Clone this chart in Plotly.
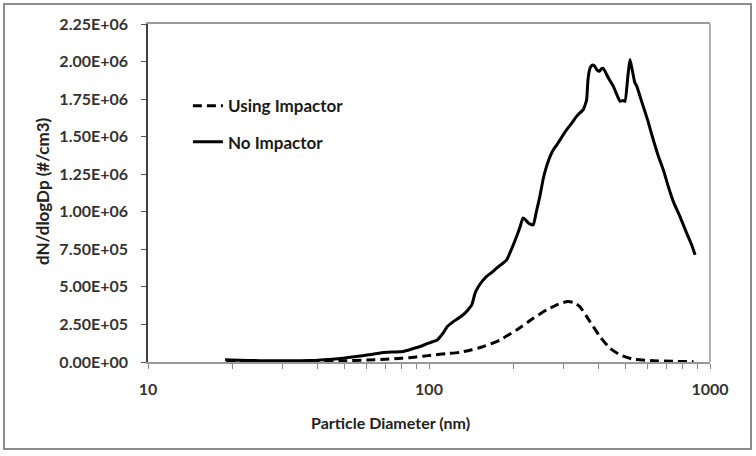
import plotly.graph_objects as go

# No Impactor (solid)
d_no = [18.8, 21, 25, 30, 35, 40, 45, 50, 55, 61, 67, 74, 81, 88, 93, 98, 103, 107, 112, 116,
        122, 128, 134, 138, 142, 146, 150, 155, 160, 167, 174, 181, 189, 197, 205, 211, 216,
        221, 226, 231, 235, 241, 248, 255, 262, 270, 277, 285, 293, 301, 309, 322, 335, 345,
        354, 360, 364, 368, 374, 380, 387, 396, 404, 410, 417, 435, 453, 466, 479, 490, 498,
        510, 519, 528, 540, 549, 571, 600, 628, 655, 682, 710, 740, 785, 826, 860, 885]
v_no = [0.015, 0.012, 0.009, 0.008, 0.009, 0.012, 0.018, 0.026, 0.036, 0.048, 0.060, 0.066,
        0.070, 0.090, 0.103, 0.120, 0.135, 0.147, 0.190, 0.235, 0.269, 0.295, 0.324, 0.350,
        0.380, 0.460, 0.502, 0.540, 0.569, 0.595, 0.625, 0.650, 0.680, 0.755, 0.835, 0.900,
        0.958, 0.945, 0.924, 0.915, 0.913, 1.000, 1.102, 1.220, 1.302, 1.370, 1.413, 1.445,
        1.480, 1.515, 1.547, 1.590, 1.635, 1.660, 1.680, 1.715, 1.747, 1.880, 1.955, 1.975,
        1.973, 1.945, 1.935, 1.950, 1.955, 1.890, 1.835, 1.780, 1.735, 1.740, 1.735, 1.900,
        2.013, 1.950, 1.860, 1.835, 1.735, 1.610, 1.480, 1.370, 1.280, 1.170, 1.069, 0.960,
        0.858, 0.780, 0.713]

# Using Impactor (dashed)
d_imp = [19, 25, 30, 40, 50, 60, 70, 80, 85, 95, 104, 115, 129, 142, 156, 179, 205, 235, 262,
         285, 300, 313, 328, 344, 374, 406, 441, 479, 534, 628, 750, 874]
v_imp = [0.010, 0.004, 0.003, 0.004, 0.008, 0.013, 0.018, 0.025, 0.029, 0.038, 0.047, 0.055,
         0.065, 0.082, 0.102, 0.147, 0.213, 0.291, 0.347, 0.380, 0.396, 0.402, 0.395, 0.369,
         0.269, 0.169, 0.091, 0.047, 0.018, 0.009, 0.004, 0.002]

y_ticks = [0, 0.25e6, 0.5e6, 0.75e6, 1.0e6, 1.25e6, 1.5e6, 1.75e6, 2.0e6, 2.25e6]
y_labels = ["0.00E+00", "2.50E+05", "5.00E+05", "7.50E+05", "1.00E+06",
            "1.25E+06", "1.50E+06", "1.75E+06", "2.00E+06", "2.25E+06"]
x_ticks = [10, 20, 30, 40, 50, 60, 70, 80, 90, 100, 200, 300, 400, 500, 600, 700, 800, 900, 1000]
x_labels = ["10", "", "", "", "", "", "", "", "", "100", "", "", "", "", "", "", "", "", "1000"]

FONT = "Lato"
fig = go.Figure()
fig.add_trace(go.Scatter(x=d_imp, y=[v * 1e6 for v in v_imp], mode="lines", name="Using Impactor",
                         legendgroup="a",
                         line=dict(color="black", width=3, dash="9px,5px", shape="spline", smoothing=0.5)))
fig.add_trace(go.Scatter(x=d_no, y=[v * 1e6 for v in v_no], mode="lines", name="No Impactor",
                         legendgroup="b",
                         line=dict(color="black", width=3, shape="spline", smoothing=0.5)))

fig.update_layout(
    width=756, height=456,
    margin=dict(l=148, r=46, t=24, b=94),
    paper_bgcolor="white", plot_bgcolor="white",
    font=dict(family=FONT, size=16, color="#333333", weight="bold"),
    showlegend=True,
    legend=dict(x=0.071, y=0.81, xanchor="left", yanchor="top", bgcolor="rgba(0,0,0,0)",
                font=dict(family=FONT, size=17, color="#1a1a1a", weight="bold"),
                tracegroupgap=11, traceorder="grouped"),
    xaxis=dict(type="log", range=[1, 3], tickvals=x_ticks, ticktext=x_labels,
               ticks="outside", ticklen=5, tickcolor="#888888", tickwidth=1,
               showline=True, linecolor="#999999", linewidth=1.5, mirror=True,
               showgrid=False, zeroline=False, ticklabelstandoff=7,
               tickfont=dict(family=FONT, size=16, color="#333333", weight="bold")),
    yaxis=dict(range=[0, 2.25e6], tickvals=y_ticks, ticktext=y_labels,
               ticks="outside", ticklen=5, tickcolor="#555555", tickwidth=1,
               showline=True, linecolor="#404040", linewidth=1.5, mirror=False,
               showgrid=False, zeroline=False, ticklabelstandoff=10,
               tickfont=dict(family=FONT, size=16, color="#333333", weight="bold")),
    annotations=[
        dict(text="Particle Diameter (nm)", xref="paper", yref="paper",
             x=(390 - 148) / 562, y=-(422 - 362) / 338, xanchor="center", yanchor="middle",
             showarrow=False, font=dict(family=FONT, size=16, color="#222222", weight="bold")),
        dict(text="dN/dlogDp (#/cm3)", xref="paper", yref="paper", textangle=-90,
             x=(42 - 148) / 562, y=(362 - 191) / 338, xanchor="center", yanchor="middle",
             showarrow=False, font=dict(family=FONT, size=17, color="#222222", weight="bold")),
    ],
    shapes=[
        dict(type="line", xref="paper", yref="paper", x0=1, x1=1, y0=0, y1=1,
             line=dict(color="#999999", width=1.5)),
        dict(type="rect", xref="paper", yref="paper",
             x0=(4 - 148) / 562, x1=(751 - 148) / 562, y0=-(449 - 362) / 338, y1=(362 - 4) / 338,
             line=dict(color="#8c8c8c", width=2)),
    ],
)

fig.write_html("out.html", config={"displayModeBar": False},
               post_script="document.body.style.margin='0px';document.body.style.padding='0px';")
